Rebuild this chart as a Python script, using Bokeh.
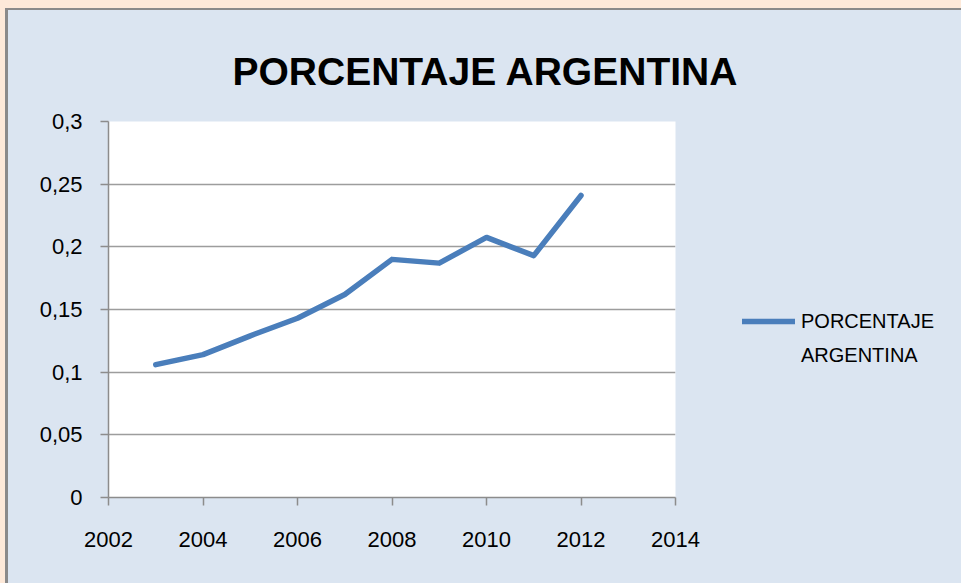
from bokeh.plotting import figure
from bokeh.models import Range1d, FixedTicker, Legend, LegendItem, Title
from bokeh.embed import file_html
from bokeh.resources import INLINE

# Data
years = [2003, 2004, 2005, 2006, 2007, 2008, 2009, 2010, 2011, 2012]
porcentaje = [0.106, 0.114, 0.129, 0.143, 0.162, 0.190, 0.187, 0.2075, 0.193, 0.241]
series_name_lines = ["PORCENTAJE", "ARGENTINA"]
title_text = "PORCENTAJE  ARGENTINA"
y_ticks = [0, 0.05, 0.1, 0.15, 0.2, 0.25, 0.3]
y_tick_labels = ["0", "0,05", "0,1", "0,15", "0,2", "0,25", "0,3"]
x_ticks = [2002, 2004, 2006, 2008, 2010, 2012, 2014]

FONT = "Liberation Sans"

p = figure(frame_width=567, frame_height=376,
           output_backend="svg", toolbar_location=None,
           x_range=Range1d(2002, 2014), y_range=Range1d(0, 0.3),
           min_border_left=100, min_border_top=111, min_border_right=286,
           min_border_bottom=86)
p.background_fill_color = "white"
p.border_fill_color = "#dbe5f1"
p.outline_line_color = None
p.title.text = ""

# spacer panel between the frame and the title
p.add_layout(Title(text=" ", text_font_size="2px", standoff=9,
                   text_alpha=0), "above")
main_title = Title(text=title_text, align="left", offset=124, standoff=53,
                   vertical_align="top", text_font=FONT,
                   text_font_style="bold", text_font_size="39px",
                   text_color="black")
p.add_layout(main_title, "above")

p.xgrid.visible = False
p.ygrid.ticker = FixedTicker(ticks=y_ticks)
p.ygrid.grid_line_color = "#9d9d9d"
p.ygrid.grid_line_width = 1.5

p.xaxis.ticker = FixedTicker(ticks=x_ticks)
p.yaxis.ticker = FixedTicker(ticks=y_ticks)
p.yaxis.major_label_overrides = dict(zip(y_ticks, y_tick_labels))
for ax in (p.xaxis[0], p.yaxis[0]):
    ax.axis_line_color = "#8c8c8c"
    ax.axis_line_width = 1.5
    ax.major_tick_line_color = "#8c8c8c"
    ax.major_tick_line_width = 1.5
    ax.major_tick_in = 0
    ax.major_tick_out = 8
    ax.minor_tick_line_color = None
    ax.major_label_text_font = FONT
    ax.major_label_text_font_size = "22px"
    ax.major_label_text_color = "black"
p.xaxis.major_label_standoff = 26
p.yaxis.major_label_standoff = 18

r = p.line(years, porcentaje, line_color="#4a7ebb", line_width=5.5,
           line_cap="round", line_join="round")
# transparent twin used only to carry the second line of the legend label
r_label2 = p.line(years, porcentaje, line_alpha=0)

legend = Legend(items=[LegendItem(label=series_name_lines[0], renderers=[r]),
                       LegendItem(label=series_name_lines[1], renderers=[r_label2])],
                location=(67, 130), padding=0, margin=0, spacing=10,
                glyph_width=53, glyph_height=24, label_standoff=6,
                label_height=24,
                label_text_font=FONT, label_text_font_size="20px",
                label_text_color="black",
                background_fill_alpha=0, border_line_color=None)
p.add_layout(legend, "right")

html = file_html(p, INLINE)
html = html.replace("</head>",
                    "<style>html{background:#fde9d9;margin:0;padding:0;}"
                    "body{margin:8px 0 0 5px;padding:0;background:#dbe5f1;"
                    "border-top:2px solid #8a8a8a;border-left:3px solid #8a8a8a;}"
                    "</style></head>")
open("out.html", "w").write(html)
